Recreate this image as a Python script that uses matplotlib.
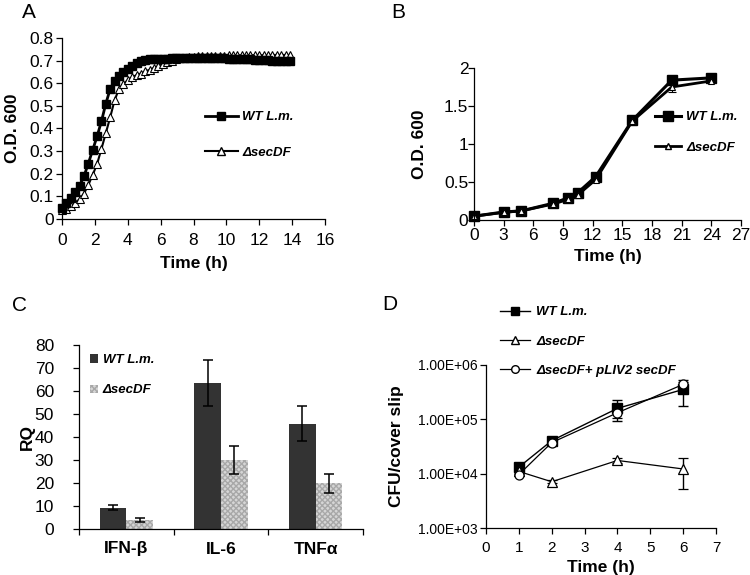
import numpy as np
import matplotlib
matplotlib.use("Agg")
import matplotlib.pyplot as plt
from matplotlib.lines import Line2D

plt.rcParams['font.family'] = ['Liberation Sans', 'DejaVu Sans']
plt.rcParams['axes.linewidth'] = 0.9
plt.rcParams['xtick.major.width'] = 0.9
plt.rcParams['ytick.major.width'] = 0.9

# ---- A: growth curve, plate reader (every 16 min)
a_time_min = [0, 16, 32, 48, 64, 80, 96, 112, 128, 144, 160, 176, 192, 208, 224, 240,
              256, 272, 288, 304, 320, 336, 352, 368, 384, 400, 416, 432, 448, 464, 480,
              496, 512, 528, 544, 560, 576, 592, 608, 624, 640, 656, 672, 688, 704, 720,
              736, 752, 768, 784, 800, 816, 832]
a_wt = [.047, .069, .093, .118, .148, .188, .245, .305, .365, .432, .510, .575, .610,
        .630, .648, .664, .677, .688, .697, .703, .706, .707, .708, .709, .709, .710,
        .710, .710, .710, .710, .710, .710, .710, .710, .710, .710, .710, .710, .709,
        .709, .708, .707, .706, .705, .704, .703, .702, .701, .700, .700, .699, .699, .698]
a_dsec = [.040, .046, .056, .070, .088, .112, .150, .195, .243, .310, .380, .450, .525,
          .575, .597, .613, .627, .636, .643, .652, .660, .668, .676, .684, .692, .699,
          .705, .710, .713, .716, .718, .719, .720, .721, .722, .722, .722, .722, .723,
          .723, .723, .723, .723, .724, .724, .724, .724, .724, .725, .725, .725, .725, .725]

# ---- B: growth curve, flask
b_time = [0, 3, 4.8, 8, 9.5, 10.5, 12.3, 16, 20, 24]
b_wt = [0.05, 0.105, 0.12, 0.22, 0.29, 0.36, 0.57, 1.31, 1.84, 1.87]
b_dsec = [0.05, 0.10, 0.12, 0.21, 0.27, 0.33, 0.53, 1.30, 1.75, 1.83]
b_dsec_err = [0, 0, 0, 0, 0, 0, 0, 0, 0.07, 0]

# ---- C: cytokines
c_genes = ['IFN-β', 'IL-6', 'TNFα']
c_wt = [9.3, 63.3, 45.8]
c_wt_err = [1.2, 10.0, 7.6]
c_dsec = [3.8, 30.0, 19.9]
c_dsec_err = [0.9, 6.2, 4.1]

# ---- D: intracellular growth
d_time = [1, 2, 4, 6]
d_wt = [1.32e4, 4.05e4, 1.59e5, 3.55e5]
d_wt_err = [0.15e4, 0.3e4, 0.65e5, 1.8e5]
d_dsec = [1.1e4, 7.1e3, 1.75e4, 1.22e4]
d_dsec_err = [0.1e4, 0.4e3, 0.2e4, 0.7e4]
d_comp = [9.6e3, 3.73e4, 1.32e5, 4.4e5]
d_comp_err = [0.5e3, 0.2e4, 0.27e5, 0.4e5]

W, H = 750, 575
fig = plt.figure(figsize=(W / 100, H / 100), dpi=100)


def box(l, t, r, b):
    return [l / W, 1 - b / H, (r - l) / W, (b - t) / H]


def style(a, xpad=3, ypad=3):
    a.spines['top'].set_visible(False)
    a.spines['right'].set_visible(False)
    a.tick_params(direction='out', length=4, labelsize=12.5)
    a.tick_params(axis='x', pad=xpad)
    a.tick_params(axis='y', pad=ypad)


lab = dict(fontsize=12.5, fontweight='bold')
leg = dict(size=9.5, weight='bold', style='italic')

# A
axA = fig.add_axes(box(62, 38, 325, 219))
style(axA, xpad=6, ypad=2)
ta = [m / 60 for m in a_time_min]
axA.plot(ta, a_dsec, '-', color='black', lw=1.5, marker='^', ms=5.5,
         mfc='white', mec='black', mew=0.8, clip_on=False)
axA.plot(ta, a_wt, '-', color='black', lw=2, marker='s', ms=5.5, clip_on=False)
axA.set_xlim(0, 16)
axA.set_ylim(0, 0.8)
axA.set_xticks(range(0, 17, 2))
axA.set_yticks(np.arange(0, 0.81, 0.1))
axA.set_yticklabels(['0', '0.1', '0.2', '0.3', '0.4', '0.5', '0.6', '0.7', '0.8'])
axA.set_xlabel('Time (h)', labelpad=6, **lab)
axA.set_ylabel('O.D. 600', labelpad=7, **lab)
hA = [Line2D([], [], color='black', lw=2, marker='s', ms=6),
      Line2D([], [], color='black', lw=1.5, marker='^', ms=5.5, mfc='white', mec='black')]
axA.legend(hA, ['WT L.m.', 'ΔsecDF'], loc='upper left', bbox_to_anchor=(205 / W, 1 - 111 / H),
           bbox_transform=fig.transFigure, frameon=False, prop=leg,
           handlelength=2.5, handletextpad=0.3, labelspacing=1.75,
           borderpad=0, borderaxespad=0)

# B
axB = fig.add_axes(box(474, 68, 741, 220))
style(axB, xpad=2, ypad=0)
axB.errorbar(b_time, b_dsec, yerr=b_dsec_err, fmt='-', color='black', lw=2,
             marker='^', ms=5, mfc='white', mec='black', mew=0.8,
             ecolor='black', elinewidth=0.8, capsize=3, clip_on=False)
axB.plot(b_time, b_wt, '-', color='black', lw=2.2, marker='s', ms=7, clip_on=False)
axB.set_xlim(0, 27)
axB.set_ylim(0, 2)
axB.set_xticks(range(0, 28, 3))
axB.set_yticks([0, 0.5, 1, 1.5, 2])
axB.set_yticklabels(['0', '0.5', '1', '1.5', '2'])
axB.set_xlabel('Time (h)', **lab)
axB.set_ylabel('O.D. 600', labelpad=12, **lab)
hB = [Line2D([], [], color='black', lw=2.2, marker='s', ms=6.5),
      Line2D([], [], color='black', lw=2, marker='^', ms=5, mfc='white', mec='black')]
axB.legend(hB, ['WT L.m.', 'ΔsecDF'], loc='upper left', bbox_to_anchor=(655 / W, 1 - 111 / H),
           bbox_transform=fig.transFigure, frameon=False, prop=leg,
           handlelength=2.0, handletextpad=0.35, labelspacing=1.4,
           borderpad=0, borderaxespad=0)

# C
axC = fig.add_axes(box(79, 345, 363, 529))
style(axC, ypad=14)
xc = np.arange(len(c_genes))
bw = 0.28
ek = dict(ecolor='black', elinewidth=1.1, capsize=3.5, capthick=1.1)
axC.bar(xc - bw / 2, c_wt, bw, yerr=c_wt_err, color='#333333', error_kw=ek,
        label='WT L.m.')
axC.bar(xc + bw / 2, c_dsec, bw, yerr=c_dsec_err, color='#d6d6d6',
        edgecolor='#a8a8a8', linewidth=0, hatch='xxxxxx', error_kw=ek, label='ΔsecDF')
axC.set_xlim(-0.5, 2.5)
axC.set_ylim(0, 80)
axC.set_yticks(range(0, 81, 10))
axC.set_xticks([-0.5, 0.5, 1.5, 2.5])
axC.set_xticklabels([])
axC.set_xticks(xc, minor=True)
axC.set_xticklabels(c_genes, minor=True, fontsize=12.5, fontweight='bold')
axC.tick_params(axis='x', which='minor', length=0, pad=9)
axC.set_ylabel('RQ', labelpad=0, **lab)
axC.legend(loc='upper left', bbox_to_anchor=(90 / W, 1 - 354 / H),
           bbox_transform=fig.transFigure, frameon=False, prop=leg,
           handlelength=0.6, handleheight=0.6, handletextpad=0.35, labelspacing=1.4,
           borderpad=0, borderaxespad=0)

# D
axD = fig.add_axes(box(486, 365, 716, 528))
style(axD, xpad=5, ypad=2)
axD.set_yscale('log')
ekd = dict(ecolor='black', elinewidth=1, capsize=3.5, capthick=1)
axD.errorbar(d_time, d_wt, yerr=d_wt_err, fmt='-', color='black', lw=1,
             marker='s', ms=7, **ekd)
axD.errorbar(d_time, d_dsec, yerr=d_dsec_err, fmt='-', color='black', lw=0.9,
             marker='^', ms=6.5, mfc='white', mec='black', mew=0.9, **ekd)
axD.errorbar(d_time, d_comp, yerr=d_comp_err, fmt='-', color='black', lw=0.9,
             marker='o', ms=6.5, mfc='white', mec='black', mew=0.9, **ekd)
axD.set_xlim(0, 7)
axD.set_ylim(1e3, 1e6)
axD.set_xticks(range(0, 8))
axD.set_yticks([1e3, 1e4, 1e5, 1e6])
axD.set_yticklabels(['1.00E+03', '1.00E+04', '1.00E+05', '1.00E+06'])
axD.minorticks_off()
axD.tick_params(axis='y', labelsize=10)
axD.tick_params(axis='x', labelsize=11)
axD.set_xlabel('Time (h)', **lab)
axD.set_ylabel('CFU/cover slip', labelpad=10, **lab)
hD = [Line2D([], [], color='black', lw=1, marker='s', ms=6),
      Line2D([], [], color='black', lw=0.9, marker='^', ms=5.5, mfc='white', mec='black'),
      Line2D([], [], color='black', lw=0.9, marker='o', ms=5.5, mfc='white', mec='black')]
axD.legend(hD, ['WT L.m.', 'ΔsecDF', 'ΔsecDF+ pLIV2 secDF'], loc='upper left',
           bbox_to_anchor=(500 / W, 1 - 306 / H),
           bbox_transform=fig.transFigure, frameon=False, prop=leg,
           handlelength=2.3, handletextpad=0.45, labelspacing=1.3,
           borderpad=0, borderaxespad=0)

# panel letters
for x, y, s in [(22, 3, 'A'), (391, 3, 'B'), (12, 296, 'C'), (382, 295, 'D')]:
    fig.text(x / W, 1 - y / H, s, fontsize=15, va='top', ha='left')

fig.savefig('out.png', dpi=100)
